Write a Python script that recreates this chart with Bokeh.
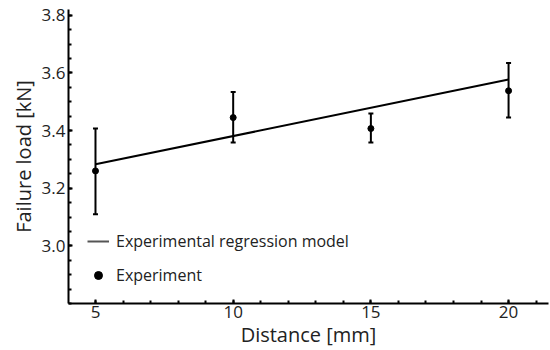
from bokeh.plotting import figure
from bokeh.models import (ColumnDataSource, Whisker, TeeHead, Legend, LegendItem, Range1d,
                          FixedTicker, CustomJSTickFormatter)
from bokeh.embed import file_html
from bokeh.resources import INLINE

# data
distance = [5, 10, 15, 20]
failure_load = [3.26, 3.445, 3.407, 3.538]
err_upper = [3.407, 3.534, 3.459, 3.634]
err_lower = [3.11, 3.359, 3.359, 3.445]
model_x = [5, 20]
model_y = [3.283, 3.577]
x_ticks = [5, 10, 15, 20]
y_ticks = [3.0, 3.2, 3.4, 3.6, 3.8]

FONT = "Open Sans"
p = figure(width=550, height=350, output_backend="svg", toolbar_location=None,
           x_range=Range1d(4.02, 21.45), y_range=Range1d(2.8, 3.82),
           min_border_left=68, min_border_right=2, min_border_top=9, min_border_bottom=45)
p.outline_line_color = None
p.xgrid.visible = False
p.ygrid.visible = False

src = ColumnDataSource(dict(x=distance, y=failure_load, up=err_upper, lo=err_lower))
w = Whisker(source=src, base="x", upper="up", lower="lo", line_color="black", line_width=2,
            upper_head=TeeHead(size=5, line_color="black", line_width=2),
            lower_head=TeeHead(size=5, line_color="black", line_width=2))
p.add_layout(w)

r_line = p.line(model_x, model_y, line_color="black", line_width=2)
r_pts = p.scatter("x", "y", source=src, size=6, color="black")

# legend proxy glyphs, placed outside the visible range
leg_line = p.line([-10, -9], [0, 0], line_color="#555555", line_width=2)
leg_pts = p.scatter([-10], [0], size=5, color="black")
legend = Legend(items=[LegendItem(label="Experimental regression model", renderers=[leg_line]),
                       LegendItem(label="Experiment", renderers=[leg_pts])],
                location=(19, 17), padding=0, margin=0, spacing=12,
                glyph_width=22, glyph_height=20, label_height=20, label_standoff=7,
                label_text_font=FONT, label_text_font_size="16px", label_text_color="#222222",
                background_fill_alpha=0, border_line_color=None)
p.add_layout(legend, "center")

for ax in (p.xaxis[0], p.yaxis[0]):
    ax.axis_line_width = 2
    ax.axis_line_color = "black"
    ax.major_tick_in = 4
    ax.major_tick_out = 0
    ax.minor_tick_in = 3
    ax.minor_tick_out = 0
    ax.major_tick_line_width = 2
    ax.minor_tick_line_width = 2
    ax.major_label_text_font = FONT
    ax.major_label_text_font_size = "17px"
    ax.major_label_text_color = "#222222"
    ax.axis_label_text_font = FONT
    ax.axis_label_text_font_size = "20px"
    ax.axis_label_text_font_style = "normal"
    ax.axis_label_text_color = "#222222"

p.xaxis.ticker = FixedTicker(ticks=x_ticks, minor_ticks=list(range(5, 22)))
p.yaxis.ticker = FixedTicker(ticks=y_ticks,
                             minor_ticks=[round(2.8 + 0.05 * i, 2) for i in range(21)])
p.yaxis.formatter = CustomJSTickFormatter(code="return tick.toFixed(1);")
p.xaxis.axis_label = "Distance [mm]"
p.yaxis.axis_label = "Failure load [kN]"
p.xaxis.major_label_standoff = 2
p.yaxis.major_label_standoff = 3
p.xaxis.axis_label_standoff = 0
p.yaxis.axis_label_standoff = 2

open("out.html", "w").write(file_html(p, INLINE))
